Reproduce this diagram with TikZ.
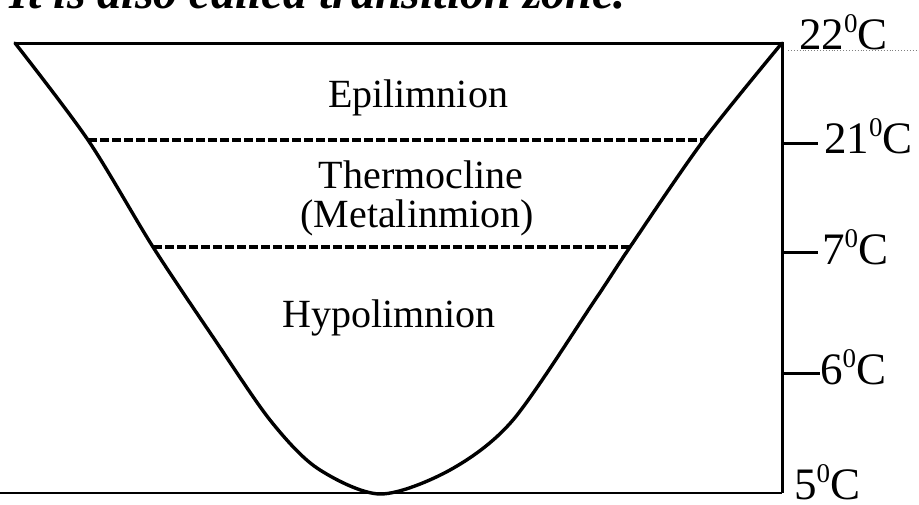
\documentclass[tikz,border=0pt]{standalone}
\usepackage{fontspec}
\setmainfont{Liberation Serif}
\newcommand{\degsup}{\raisebox{17pt}{\fontsize{27}{27}\selectfont 0}}
\begin{document}
\begin{tikzpicture}[x=1pt,y=-1pt,
  curve/.style={line width=3.4pt, line join=round, line cap=round},
  frame/.style={line width=3pt},
  layer/.style={line width=3.2pt, dash pattern=on 8.5pt off 3.5pt},
  faint/.style={line width=0.9pt, gray, dotted},
  zone/.style={font=\fontsize{40}{44}\selectfont, inner sep=0pt, anchor=base},
  temp/.style={font=\fontsize{45}{49}\selectfont, inner sep=0pt, anchor=base west}]
\clip (0,0) rectangle (919,504);
\fill[white] (0,0) rectangle (919,504);
% clipped caption line at the top
\node[anchor=base east, inner sep=0pt, font=\fontsize{48}{52}\selectfont\bfseries\itshape] (caption) at (626,8) {It is also called transition zone.};
% coordinates
\coordinate (tl) at (15,43);
\coordinate (tr) at (782,43);
\coordinate (br) at (782,493);
\coordinate (bl) at (0,493);
\coordinate (d1l) at (88,140);
\coordinate (d1r) at (703,140);
\coordinate (d2l) at (153,247);
\coordinate (d2r) at (630,247);
% frame
\draw[frame] (tl) -- (tr) -- (br);
\draw[line width=2.2pt] (bl) -- (br);
\draw[faint] (788,50) -- (919,50);
% lake profile
\draw[curve] plot[smooth, tension=0.5] coordinates {(15,43) (88,140) (153,247) (215,340) (270,420) (317,468) (380,494) (450,470) (513,420) (595,300) (630,247) (703,141) (782,43)};
% layer boundaries
\draw[layer] (d1l) -- (d1r);
\draw[layer] (d2l) -- (d2r);
% ticks
\coordinate (t21) at (818,143);
\coordinate (t7) at (818,252);
\coordinate (t6) at (820,373);
\draw[frame] (782,143) -- (t21);
\draw[frame] (782,252) -- (t7);
\draw[frame] (782,373) -- (t6);
% zone labels
\node[zone] (epi) at (418,107) {Epilimnion};
\node[zone] (thermo) at (421,188) {Thermocline};
\node[zone] (meta) at (417,227) {(Metalinmion)};
\node[zone] (hypo) at (389,327) {Hypolimnion};
% temperatures
\node[temp] (c22) at (799,49) {22\degsup C};
\node[temp] (c21) at (824,153) {21\degsup C};
\node[temp] (c7) at (822,264) {7\degsup C};
\node[temp] (c6) at (820,384) {6\degsup C};
\node[temp] (c5) at (794,499) {5\degsup C};
\end{tikzpicture}
\end{document}
